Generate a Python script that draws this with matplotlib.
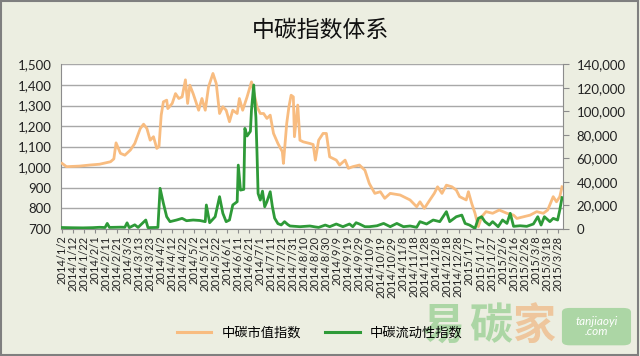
import numpy as np
import pandas as pd
import matplotlib
matplotlib.use('Agg')
import matplotlib.pyplot as plt
from matplotlib.patches import Rectangle, FancyBboxPatch
from matplotlib.lines import Line2D
from matplotlib.ticker import FuncFormatter

plt.rcParams['font.family'] = ['Lato', 'Noto Sans CJK SC', 'DejaVu Sans']

START = pd.Timestamp('2014-01-02')
TITLE = '中碳指数体系'
NAMES = ['中碳市值指数', '中碳流动性指数']

# market value index (left axis), days after 2014/1/2
mv_days = [0, 4, 16, 25, 34, 44, 47, 49, 53, 57, 62, 66, 71, 74, 77, 80, 83, 86, 88, 90,
           92, 95, 96, 100, 103, 106, 109, 112, 114, 116, 119, 122, 124, 127, 130, 133, 137,
           140, 143, 146, 149, 152, 155, 159, 161, 164, 168, 172, 177, 180, 183, 186, 189,
           192, 196, 200, 201, 204, 206, 208, 210, 211, 214, 216, 219, 225, 228, 230, 233,
           237, 240, 243, 249, 252, 257, 260, 264, 270, 275, 279, 284, 289, 293, 298, 307,
           316, 322, 325, 329, 334, 338, 341, 345, 349, 354, 358, 361, 367, 369, 372, 375,
           378, 381, 385, 391, 397, 404, 410, 413, 419, 425, 431, 437, 441, 446, 449, 452, 454]
mv_vals = [1018, 1002, 1005, 1010, 1014, 1026, 1040, 1118, 1067, 1058, 1083, 1115, 1188, 1209,
           1188, 1131, 1148, 1091, 1100, 1253, 1318, 1326, 1285, 1310, 1358, 1334, 1342, 1425,
           1310, 1399, 1358, 1310, 1277, 1334, 1277, 1391, 1456, 1407, 1261, 1294, 1277, 1221,
           1277, 1261, 1334, 1277, 1342, 1415, 1294, 1261, 1261, 1237, 1253, 1164, 1115, 1075,
           1018, 1213, 1294, 1350, 1342, 1148, 1302, 1131, 1123, 1115, 1110, 1034, 1131, 1164,
           1164, 1050, 1034, 1010, 1034, 994, 1002, 1010, 985, 920, 872, 880, 848, 872, 864,
           840, 807, 831, 799, 840, 872, 904, 872, 912, 904, 888, 856, 840, 880, 823, 775,
           710, 758, 783, 775, 791, 775, 766, 750, 758, 766, 783, 775, 791, 856, 831, 856, 904]

# liquidity index (right axis)
lq_days = [0, 10, 19, 28, 34, 39, 41, 43, 53, 57, 59, 61, 66, 69, 76, 78, 87, 89, 92, 95,
           98, 104, 109, 113, 119, 125, 130, 131, 134, 139, 143, 146, 149, 152, 155, 159, 160,
           162, 165, 166, 168, 171, 172, 174, 176, 177, 178, 180, 182, 184, 186, 189, 191, 193,
           196, 199, 202, 205, 207, 216, 225, 230, 233, 239, 243, 249, 255, 261, 264, 267, 270,
           275, 279, 286, 292, 298, 304, 310, 316, 322, 325, 331, 337, 343, 349, 352, 358, 363,
           366, 370, 375, 378, 381, 384, 388, 391, 396, 400, 404, 407, 410, 416, 422, 428, 432,
           435, 438, 443, 446, 450, 452, 454]
lq_vals = [1000, 800, 700, 900, 1200, 1000, 4500, 1100, 1300, 1200, 5000, 900, 3300, 1100,
           7400, 900, 1100, 34400, 21600, 10200, 6000, 7400, 8800, 6800, 7400, 7000, 6000,
           20200, 5100, 10200, 27300, 13100, 6000, 7400, 20200, 23000, 54200, 32900, 33500,
           85500, 79000, 83000, 101100, 122500, 95000, 65000, 30000, 24400, 32000, 18700,
           23000, 31500, 18700, 9000, 4300, 3200, 6000, 3500, 2300, 1700, 2300, 1500, 1100,
           3100, 1700, 4000, 1700, 4000, 1700, 5100, 4000, 1700, 1700, 2500, 4500, 1700, 4500,
           1700, 2300, 1200, 6000, 4000, 7400, 6000, 14500, 6000, 10200, 11600, 4500, 3100,
           300, 8800, 10200, 6000, 3100, 6000, 1700, 7400, 4500, 13100, 2000, 2500, 2000,
           4000, 10200, 3100, 10200, 6000, 8800, 7400, 16000, 26500]

tick_dates = pd.date_range(START, '2015-03-28', freq='10D')
tick_labels = [f'{d.year}/{d.month}/{d.day}' for d in tick_dates]

BG = '#ECEEE1'
ORANGE = '#F8BC80'
GREEN = '#2E9A38'

fig = plt.figure(figsize=(6.4, 3.56), dpi=100, facecolor=BG)
ax = fig.add_axes([0.0953, 0.3576, 0.7837, 0.4614])
ax.set_facecolor('white')

ax.plot(mv_days, mv_vals, color=ORANGE, lw=2.0, solid_joinstyle='round', zorder=3)
ax.set_ylim(700, 1500)
ax.set_yticks(np.arange(700, 1501, 100))
ax.yaxis.set_major_formatter(FuncFormatter(lambda v, p: f'{int(v):,}'))
ax.set_xlim(-1, 454.5)
ax.grid(axis='y', color='#A8A8A8', lw=1.0)
ax.set_axisbelow(True)

ax2 = ax.twinx()
ax2.plot(lq_days, lq_vals, color=GREEN, lw=2.0, solid_joinstyle='round', zorder=4)
ax2.set_ylim(0, 140000)
ax2.set_yticks(np.arange(0, 140001, 20000))
ax2.yaxis.set_major_formatter(FuncFormatter(lambda v, p: f'{int(v):,}'))

tick_pos = [(d - START).days for d in tick_dates]
ax.set_xticks(tick_pos)
ax.set_xticklabels(tick_labels, rotation=90, fontsize=8, color='#222222')

for a in (ax, ax2):
    for s in a.spines.values():
        s.set_visible(False)
ax.spines['left'].set_visible(True)
ax.spines['left'].set_color('#8C8C8C')
ax.spines['bottom'].set_visible(True)
ax.spines['bottom'].set_color('#8C8C8C')
ax2.spines['right'].set_visible(True)
ax2.spines['right'].set_color('#8C8C8C')

ax.tick_params(axis='y', length=0, pad=7, labelsize=9.5, colors='#222222')
ax.tick_params(axis='x', length=3, color='#8C8C8C', pad=2)
ax2.tick_params(axis='y', length=4, color='#8C8C8C', pad=6, labelsize=9.5, colors='#222222')

fig.text(0.5, 0.913, TITLE, ha='center', va='center', fontsize=16.5,
         family=['Noto Sans CJK SC', 'DejaVu Sans'], color='#111111')

handles = [Line2D([], [], color=ORANGE, lw=2.2), Line2D([], [], color=GREEN, lw=2.2)]
fig.legend(handles, NAMES, loc='center', bbox_to_anchor=(0.5, 0.065), ncol=2,
           frameon=False, handlelength=2.6, columnspacing=1.8,
           prop={'family': ['Noto Sans CJK SC', 'DejaVu Sans'], 'size': 9.5})

# watermark (sits over the legend like in the source image)
wm = ['Noto Sans CJK SC', 'DejaVu Sans']
fig.text(0.692, 0.085, '易', fontsize=31, fontweight='bold', color='#6DBF6A', alpha=0.5,
         ha='center', va='center', family=wm)
fig.text(0.766, 0.085, '碳', fontsize=31, fontweight='bold', color='#6DBF6A', alpha=0.5,
         ha='center', va='center', family=wm)
fig.text(0.834, 0.085, '家', fontsize=31, fontweight='bold', color='#F0A05A', alpha=0.5,
         ha='center', va='center', family=wm)
fig.patches.append(FancyBboxPatch((0.878, 0.03), 0.108, 0.105, boxstyle='round,pad=0,rounding_size=0.012',
                                  transform=fig.transFigure, facecolor='#6DBF6A', alpha=0.5,
                                  edgecolor='none'))
fig.text(0.932, 0.083, 'tanjiaoyi\n.com', fontsize=8.5, style='italic', color='white',
         ha='center', va='center', linespacing=0.9)

fig.patches.append(Rectangle((0.002, 0.003), 0.995, 0.993, transform=fig.transFigure,
                             fill=False, edgecolor='#7F7F7F', lw=1.5))

fig.savefig('out.png', dpi=100, facecolor=BG)
